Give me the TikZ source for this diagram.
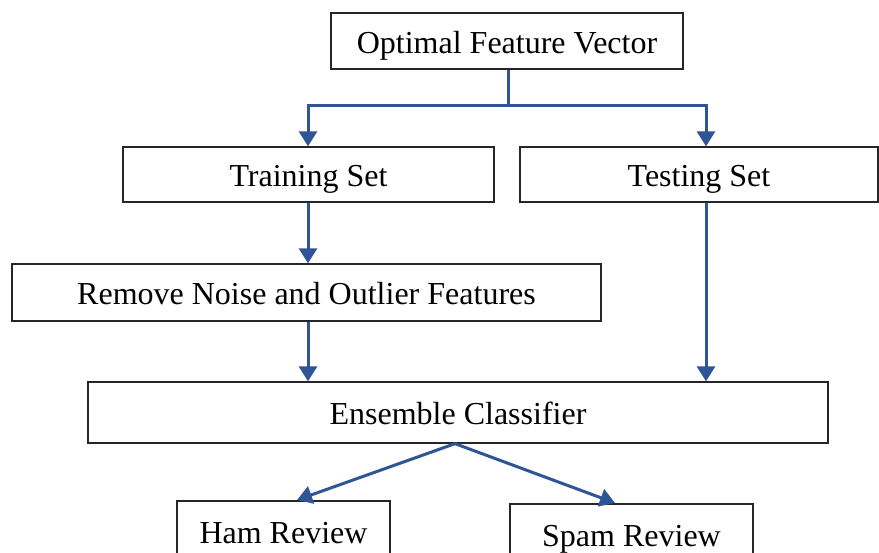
\documentclass[tikz,border=0pt]{standalone}
\usepackage{fontspec}
\setmainfont{Liberation Serif}
\usetikzlibrary{arrows.meta}
\definecolor{arrblue}{HTML}{2F5597}
\begin{document}
\begin{tikzpicture}[x=1pt,y=-1pt,
  box/.style={draw=black!85,line width=1.3pt,inner sep=0pt,text height=27pt,text depth=2pt,font=\fontsize{32}{36}\selectfont},
  conn/.style={draw=arrblue,line width=3pt},
  arr/.style={conn,-{Triangle[length=15pt,width=18pt]}}]
\useasboundingbox (0,0) rectangle (879,553);
\node[box,minimum width=352pt,minimum height=56pt] (ofv) at (507,41) {Optimal Feature Vector};
\node[box,minimum width=371pt,minimum height=55pt] (train) at (308.5,174.5) {Training Set};
\node[box,minimum width=358pt,minimum height=55pt] (test) at (699,174.5) {Testing Set};
\node[box,minimum width=589pt,minimum height=57pt] (rem) at (306.5,292.5) {Remove Noise and Outlier Features};
\node[box,minimum width=740pt,minimum height=61pt] (ens) at (458,412.5) {Ensemble Classifier};
\node[box,minimum width=213pt,minimum height=60pt] (ham) at (283.5,531) {Ham Review};
\node[box,minimum width=243pt,minimum height=60pt] (spam) at (631.5,534) {Spam Review};
\coordinate (split) at (508,106);
\draw[conn] (ofv.south -| split) -- (split);
\draw[arr] (split) -| (train.north -| 308,0);
\draw[arr] (split) -| (test.north -| 706,0);
\draw[arr] (train.south -| 308,0) -- (rem.north -| 308,0);
\draw[arr] (rem.south -| 308,0) -- (ens.north -| 308,0);
\draw[arr] (test.south -| 706,0) -- (ens.north -| 706,0);
\draw[arr] (ens.south -| 455,0) -- (297,500);
\draw[arr] (ens.south -| 455,0) -- (615,503);
\end{tikzpicture}
\end{document}
